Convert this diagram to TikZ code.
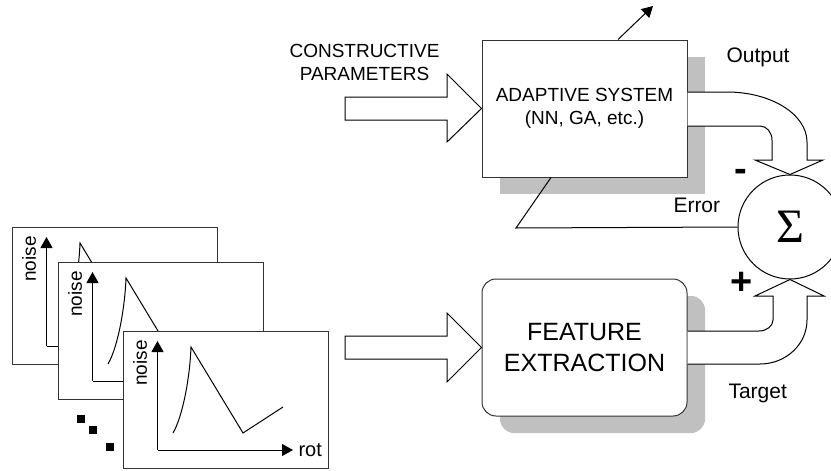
\documentclass[tikz,border=0pt]{standalone}
\usepackage{fontspec}
\setmainfont{Liberation Sans}
\newfontfamily\sigmafont{Liberation Serif}
\usetikzlibrary{arrows.meta,shadows}
\definecolor{shadegray}{RGB}{192,192,192}
\begin{document}
\begin{tikzpicture}[x=1pt,y=-1pt,line width=1pt,
  every node/.style={inner sep=0pt},
  shade box/.style={drop shadow={shadow xshift=18pt,shadow yshift=-17pt,opacity=1,fill=shadegray}},
  sysbox/.style={draw=black!80,fill=white,minimum width=205pt,minimum height=137pt,align=center,shade box},
  lbl/.style={font=\fontsize{21}{25}\selectfont,anchor=base west},
  sign/.style={font=\fontsize{38}{38}\selectfont\bfseries},
  fat arrow/.style={draw=black,fill=white,line join=miter},
  axis tip/.style={-{Triangle[length=11pt,width=12pt]}}]
\useasboundingbox (0,0) rectangle (831,471);
% adaptive system
\node [sysbox,font=\fontsize{19}{23}\selectfont] (adapt) at (584.5,108.5) {ADAPTIVE SYSTEM\\(NN, GA, etc.)};
\draw [axis tip] ([xshift=33.5]adapt.north) -- (653,6);
\node [align=center,font=\fontsize{19}{23}\selectfont] (cparam) at (364.5,62) {CONSTRUCTIVE\\PARAMETERS};
\draw [fat arrow] (345,97) -- (447,97) -- (447,74) -- (adapt.west) -- (447,142) -- (447,120) -- (345,120) -- cycle;
% feature extraction
\node [sysbox,rounded corners=14pt,font=\fontsize{25}{31.5}\selectfont] (feat) at (584.5,347.5) {FEATURE\\EXTRACTION};
\draw [fat arrow] (345,336) -- (447,336) -- (447,313) -- (feat.west) -- (447,382) -- (447,359) -- (345,359) -- cycle;
% sum
\node [draw=black,circle,minimum size=104pt,font=\sigmafont\fontsize{48}{48}\selectfont] (sum) at (790,227) {Σ};
\draw [fat arrow] ([yshift=16.5]adapt.east) -- (727,92) .. controls (771.2,92) and (807,114.4) .. (807,142) -- (807,160) -- (823,160) -- (sum.north) -- (755,160) -- (772,160) -- (772,140) .. controls (772,132.3) and (766.6,126) .. (760,126) -- ([yshift=-17.5]adapt.east);
\draw [fat arrow] ([yshift=16.5]feat.east) -- (759,331) .. controls (766.7,331) and (773,326.1) .. (773,320) -- (773,296) -- (755,296) -- (sum.south) -- (824,296) -- (807,296) -- (807,320) .. controls (807,344.3) and (785.9,364) .. (760,364) -- ([yshift=-16.5]feat.east);
\draw [black] ([xshift=-33.5]adapt.south) -- (516,228) -- (sum.west);
\node [lbl] (outlbl) at (726,62) {Output};
\node [lbl] (errlbl) at (673,212) {Error};
\node [lbl] (tgtlbl) at (728,398) {Target};
\node [sign] (minus) at (740.5,175.5) {-};
\node [sign] (plus) at (742,283) {+};
% noise plots
\foreach \fx/\fy in {12/227,58/262,123/331}
{
\begin{scope}[shift={(\fx,\fy)}]
\draw [black!80,fill=white] (0,0) rectangle (205,137);
\draw [axis tip] (34.5,119) -- (34.5,10);
\draw [axis tip] (34.5,119) -- (170,119);
\node [rotate=90,font=\fontsize{19}{23}\selectfont] at (17,32) {noise};
\node [anchor=west,font=\fontsize{20}{24}\selectfont] at (175,119) {rot};
\draw [black] (50,102) .. controls (60,85) and (67,45) .. (68,16) -- (120,102) -- (160,76);
\end{scope}
}
\foreach \dx/\dy in {81/419,93/430,110/447}
  \fill [black] (\dx-4,\dy-4) rectangle (\dx+4,\dy+4);
\end{tikzpicture}
\end{document}
